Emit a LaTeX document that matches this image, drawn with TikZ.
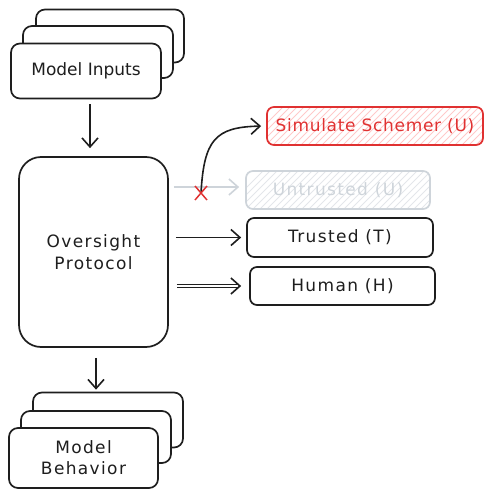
\documentclass[tikz,border=0pt]{standalone}
\usepackage{fontspec}
\setmainfont{DejaVu Sans}
\usetikzlibrary{arrows.meta}
\definecolor{ink}{HTML}{1E1E1E}
\definecolor{exred}{HTML}{E03131}
\definecolor{hatchred}{HTML}{FFC9C9}
\definecolor{exgrey}{HTML}{CED4DA}
\definecolor{hatchgrey}{HTML}{E3E6EA}
\newfontfamily\wideface[LetterSpace=8]{DejaVu Sans}
\newfontfamily\midface[LetterSpace=4]{DejaVu Sans}
\begin{document}
\begin{tikzpicture}[x=1pt,y=-1pt,
  box/.style={draw=ink,line width=1.7pt,rounded corners=9pt,fill=white,
    text=ink,font=\wideface\fontsize{17}{21}\selectfont,align=center,inner sep=0pt},
  arr/.style={draw=ink,line width=1.6pt,-{Straight Barb[length=9pt,width=16pt,line width=1.6pt]}},
]
\useasboundingbox (0,0) rectangle (492,498);
% top stack
\node[box,minimum width=148pt,minimum height=53pt] (inback) at (110,36) {};
\node[box,minimum width=150pt,minimum height=52pt] (inmid) at (98,52) {};
\node[box,font=\rmfamily\fontsize{17}{21}\selectfont,minimum width=150pt,minimum height=55pt] (inputs) at (86,71) {Model Inputs};
% oversight
\node[box,rounded corners=22pt,minimum width=149pt,minimum height=190pt] (ov) at (93.5,252) {Oversight\\[1pt]Protocol};
% bottom stack
\node[box,minimum width=150pt,minimum height=55pt] (bback) at (108,420) {};
\node[box,minimum width=150pt,minimum height=52pt] (bmid) at (96,437) {};
\node[box,minimum width=149pt,minimum height=60pt] (behav) at (83.5,458) {Model\\Behavior};
% right boxes
\begin{scope}
  \clip[rounded corners=7pt] (267,107) rectangle (483,145);
  \foreach \i in {0,7,...,280} \draw[hatchred,line width=0.8pt] (240+\i,150) -- (290+\i,100);
\end{scope}
\node[box,draw=exred,text=exred,fill=none,font=\midface\fontsize{17}{21}\selectfont,rounded corners=7pt,minimum width=216pt,minimum height=38pt] (sim) at (375,126) {Simulate Schemer (U)};
\begin{scope}
  \clip[rounded corners=7pt] (246,171) rectangle (430,209);
  \foreach \i in {0,7,...,240} \draw[hatchgrey,line width=0.8pt] (220+\i,214) -- (270+\i,164);
\end{scope}
\node[box,draw=exgrey,text=exgrey,fill=none,rounded corners=7pt,minimum width=184pt,minimum height=38pt] (untr) at (338,190) {Untrusted (U)};
\node[box,rounded corners=7pt,minimum width=186pt,minimum height=39pt] (trusted) at (340,237.5) {Trusted (T)};
\node[box,rounded corners=7pt,minimum width=185pt,minimum height=38pt] (human) at (342.5,286) {Human (H)};
% connectors
\draw[arr,shorten <=5pt,shorten >=8pt] ([xshift=4pt]inputs.south) -- ([xshift=-3.5pt]ov.north);
\draw[arr,shorten <=10pt,shorten >=2pt] ([xshift=2.5pt]ov.south) -- ([xshift=-12pt]bback.north);
\draw[arr,draw=exgrey,shorten <=5pt,shorten >=6pt] ([yshift=3pt]ov.east |- untr.west) -- ([yshift=3pt]untr.west);
\draw[arr,shorten <=7pt,shorten >=5pt] (ov.east |- trusted.west) -- (trusted.west);
\draw[arr,double=white,double distance=1.6pt,line width=0.9pt,shorten <=8pt,shorten >=8pt] (ov.east |- human.west) -- (human.west);
\coordinate (cut) at (201,193);
\draw[arr,shorten >=5pt] (cut) .. controls (204,140) and (215,127) .. (sim.west);
\draw[exred,line width=1.5pt] ([shift={(-6,-7)}]cut) -- ([shift={(6,7)}]cut) ([shift={(-6,7)}]cut) -- ([shift={(6,-7)}]cut);
\end{tikzpicture}
\end{document}
